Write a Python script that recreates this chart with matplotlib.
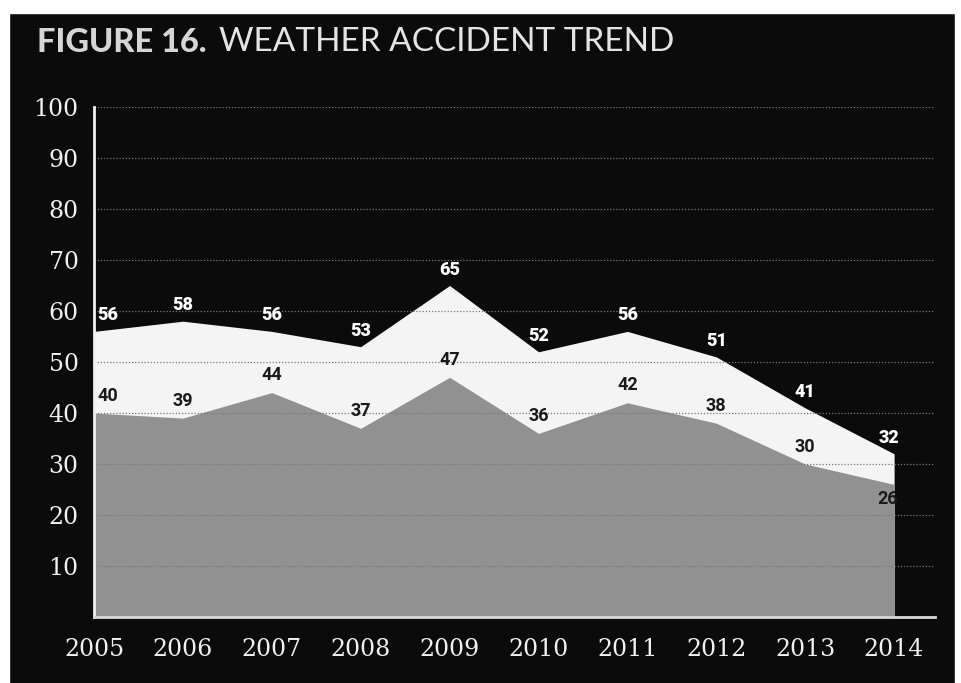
import numpy as np
import matplotlib.pyplot as plt
from matplotlib.patches import Rectangle

# Data
years = [2005, 2006, 2007, 2008, 2009, 2010, 2011, 2012, 2013, 2014]
top_values = [56, 58, 56, 53, 65, 52, 56, 51, 41, 32]
base_values = [40, 39, 44, 37, 47, 36, 42, 38, 30, 26]
y_ticks = [10, 20, 30, 40, 50, 60, 70, 80, 90, 100]

BG = '#0b0b0b'
W, H = 961, 683

fig = plt.figure(figsize=(W / 100, H / 100), dpi=100, facecolor=BG)
ax = fig.add_axes([94 / W, 1 - 617 / H, 841 / W, 510 / H])
ax.set_facecolor(BG)

# two areas, both filled from zero
ax.fill_between(years, top_values, color='#f4f4f4', lw=0, zorder=1)
ax.fill_between(years, base_values, color='#919191', lw=0, zorder=2)

ax.set_xlim(2005, 2014.46)
ax.set_ylim(0, 100)

# dotted grid over the areas
for v in y_ticks:
    ax.axhline(v, color='#787878', ls=(0, (1, 1.5)), lw=0.9, zorder=3)

for s in ['top', 'right']:
    ax.spines[s].set_visible(False)
ax.spines['left'].set_color('#f0f0f0')
ax.spines['left'].set_linewidth(2)
ax.spines['left'].set_zorder(5)
ax.spines['bottom'].set_color('#d8d8d8')
ax.spines['bottom'].set_linewidth(2)
ax.spines['bottom'].set_zorder(5)

ax.set_xticks(years)
ax.set_xticklabels([str(y) for y in years], family='DejaVu Serif', fontsize=17, color='#f0f0f0')
ax.set_yticks(y_ticks)
ax.set_yticklabels([str(v) for v in y_ticks], family='DejaVu Serif', fontsize=17, color='#f0f0f0')
ax.tick_params(axis='x', length=0, pad=15)
ax.tick_params(axis='y', length=0, pad=11)

# value labels
n = len(years)
for i, (x, v) in enumerate(zip(years, top_values)):
    dx = 10 if i == 0 else (-4 if i == n - 1 else 0)
    ax.annotate(str(v), (x, v), xytext=(dx, 5), textcoords='offset points',
                ha='center', va='bottom', fontsize=13, fontweight='heavy',
                family='Roboto', color='white', zorder=6)
for i, (x, v) in enumerate(zip(years, base_values)):
    dx = 10 if i == 0 else (-5 if i == n - 1 else 0)
    dy = -4 if i == n - 1 else 6
    va = 'top' if i == n - 1 else 'bottom'
    ax.annotate(str(v), (x, v), xytext=(dx, dy), textcoords='offset points',
                ha='center', va=va, fontsize=13, fontweight='bold',
                family='Roboto', color='#1a1a1a', zorder=6)

# title in two weights
t1 = fig.text(37 / W, 1 - 42 / H, 'FIGURE 16.', fontsize=23.5, fontweight='black',
              family='Lato', color='#d6d6d6', va='center', ha='left')
fig.canvas.draw()
bb = t1.get_window_extent()
fig.text((bb.x1 + 12) / W, 1 - 42 / H, 'WEATHER ACCIDENT TREND', fontsize=24,
         fontweight='normal', family='Lato', color='#e4e4e4', va='center', ha='left')

# paper margin around the print
fig.patches.append(Rectangle((0, 1 - 13 / H), 1, 13 / H, transform=fig.transFigure,
                             color='white', zorder=10))
fig.patches.append(Rectangle((0, 0), 9 / W, 1, transform=fig.transFigure,
                             color='white', zorder=10))
fig.patches.append(Rectangle((1 - 6 / W, 0), 6 / W, 1, transform=fig.transFigure,
                             color='white', zorder=10))

fig.savefig('out.png', dpi=100, facecolor=BG)
